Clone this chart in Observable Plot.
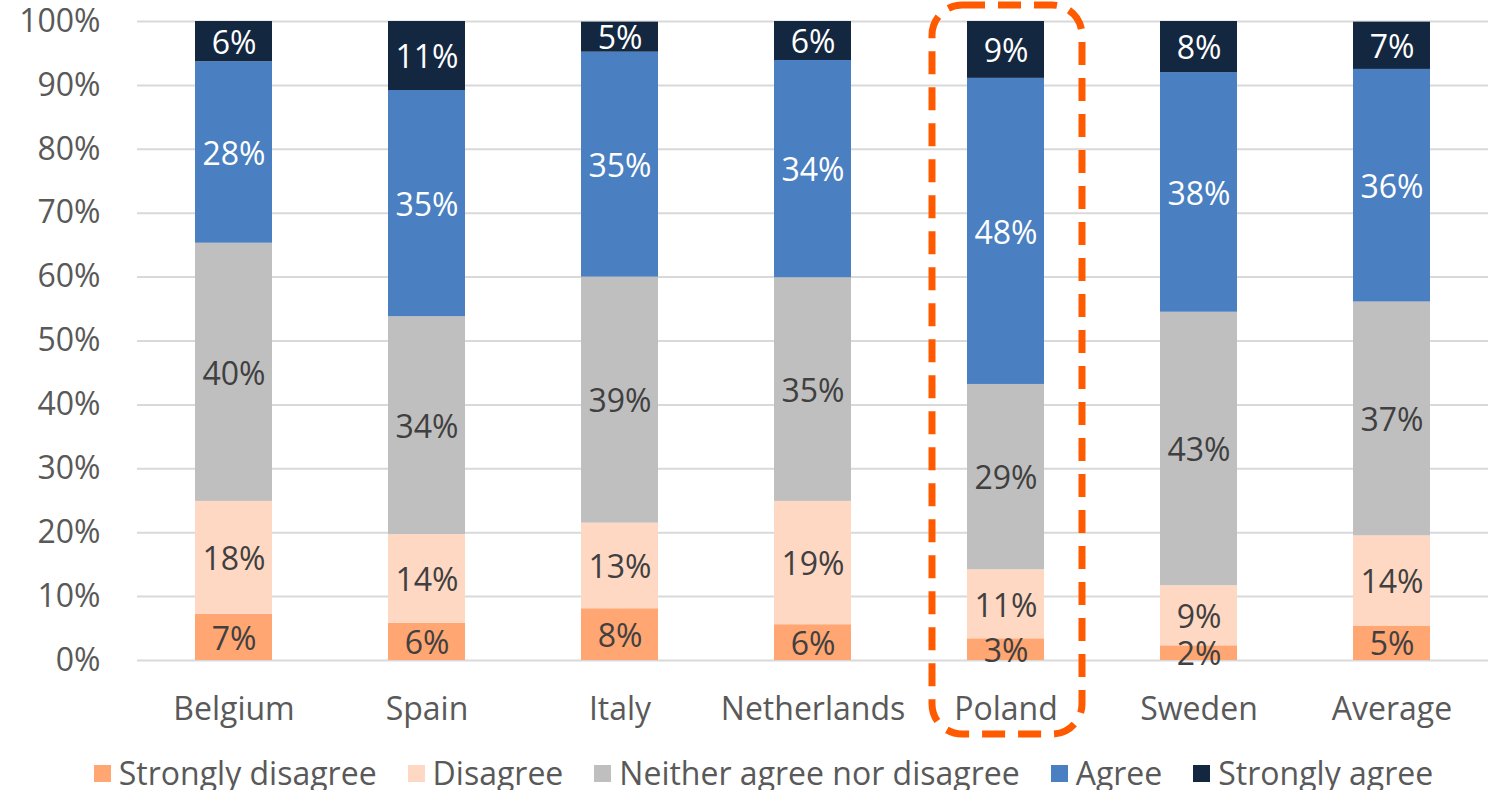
<!DOCTYPE html>
<html>
<head>
<meta charset="utf-8">
<script src="https://cdn.jsdelivr.net/npm/d3@7"></script>
<script src="https://cdn.jsdelivr.net/npm/@observablehq/plot@0.6"></script>
<style>
  html, body { margin: 0; padding: 0; background: #fff; overflow: hidden; }
  #legend { display: flex; justify-content: center; align-items: center; gap: 31px;
            font-family: "Open Sans", sans-serif; font-size: 32px; color: #595959;
            line-height: 34px; margin-top: 11px; padding-left: 36px; white-space: nowrap; }
  #legend .item { display: flex; align-items: center; }
  #legend .sw { width: 17px; height: 17px; margin-right: 8px; display: inline-block; }
</style>
</head>
<body>
<div id="chart"></div>
<div id="legend"></div>
<script>
const categories = ["Belgium", "Spain", "Italy", "Netherlands", "Poland", "Sweden", "Average"];
const levels = ["Strongly disagree", "Disagree", "Neither agree nor disagree", "Agree", "Strongly agree"];
const levelColors = ["#FFA673", "#FFD8C3", "#BFBFBF", "#4A7FC1", "#142740"];
const stronglyDisagree = [7.2, 5.8, 8.1, 5.6, 3.4, 2.3, 5.4];
const disagree        = [17.7, 13.9, 13.4, 19.3, 10.8, 9.4, 14.1];
const neither         = [40.4, 34.1, 38.5, 35.0, 29.0, 42.8, 36.6];
const agree           = [28.4, 35.4, 35.2, 34.0, 47.9, 37.5, 36.4];
const stronglyAgree   = [6.3, 10.8, 4.7, 6.1, 8.9, 8.0, 7.4];
const yTicks = [0, 10, 20, 30, 40, 50, 60, 70, 80, 90, 100];
const highlighted = ["Poland"];

const series = [stronglyDisagree, disagree, neither, agree, stronglyAgree];
const data = [];
categories.forEach((c, i) => {
  levels.forEach((l, j) => data.push({country: c, level: l, value: series[j][i]}));
});
const lightText = new Set(["Agree", "Strongly agree"]);

const chart = Plot.plot({
  width: 1491,
  height: 745,
  marginTop: 21,
  marginBottom: 85,
  marginLeft: 137,
  marginRight: 3,
  style: {fontFamily: "'Open Sans', sans-serif", fontSize: "32px", color: "#595959", background: "#fff", overflow: "visible"},
  x: {domain: categories, paddingInner: 0.6, paddingOuter: 0.3, label: null},
  y: {domain: [0, 100], label: null},
  color: {domain: levels, range: levelColors},
  marks: [
    Plot.ruleY(yTicks, {stroke: "#D9D9D9", strokeWidth: 2}),
    Plot.axisY(yTicks, {tickSize: 0, tickPadding: 37, tickFormat: d => d + "%", label: null, fontSize: 32}),
    Plot.axisX({tickSize: 0, tickPadding: 37, label: null, fontSize: 32}),
    Plot.barY(data, {x: "country", y: "value", fill: "level"}),
    Plot.text(data, Plot.stackY({
      x: "country", y: "value", z: null,
      text: d => Math.round(d.value) + "%",
      fill: d => lightText.has(d.level) ? "#FFFFFF" : "#404040",
      fontSize: 32, dy: 2
    })),
    Plot.barY(highlighted, {
      x: d => d, y1: 0, y2: 100,
      fill: "none", stroke: "#FF5A00", strokeWidth: 7, strokeDasharray: "23,13",
      rx: 30, ry: 30,
      insetLeft: -35, insetRight: -38, insetTop: -16, insetBottom: -74
    })
  ]
});
document.getElementById("chart").appendChild(chart);

const legend = document.getElementById("legend");
levels.forEach((l, j) => {
  const item = document.createElement("div");
  item.className = "item";
  const sw = document.createElement("span");
  sw.className = "sw";
  sw.style.background = levelColors[j];
  const tx = document.createElement("span");
  tx.textContent = l;
  item.appendChild(sw);
  item.appendChild(tx);
  legend.appendChild(item);
});
</script>
</body>
</html>
